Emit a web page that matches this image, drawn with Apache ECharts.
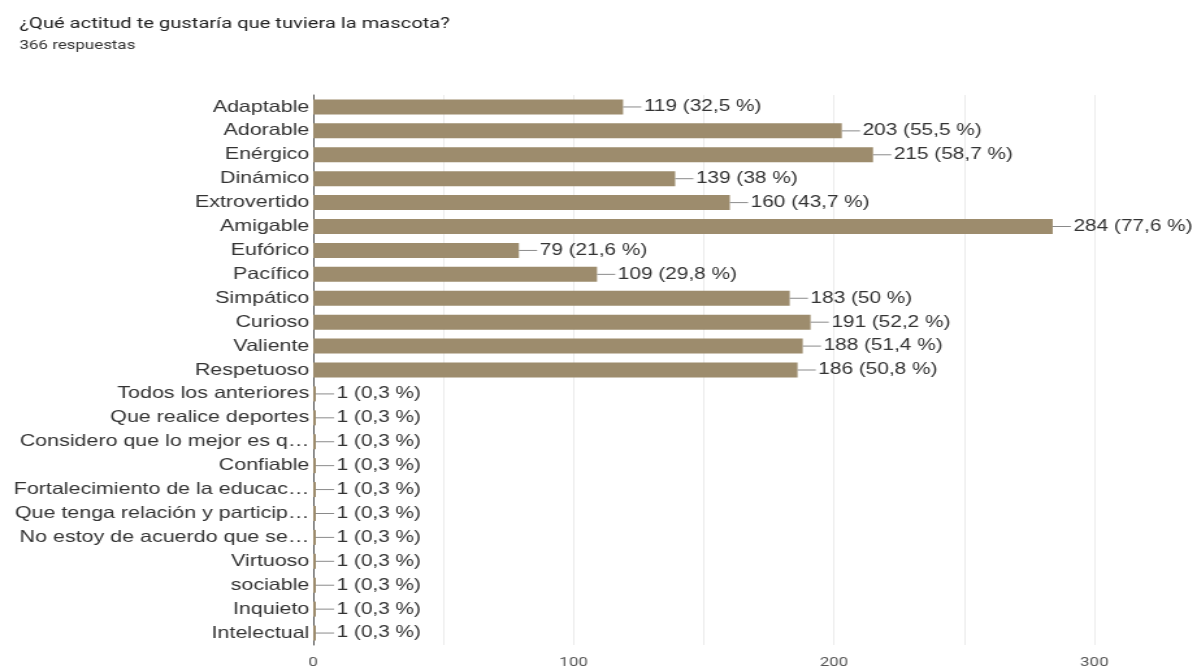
<!DOCTYPE html>
<html>
<head>
<meta charset="utf-8">
<script src="https://cdn.jsdelivr.net/npm/echarts@6/dist/echarts.min.js"></script>
<style>
html,body{margin:0;padding:0;background:#fff;overflow:hidden;}
#wrap{width:1197px;height:672px;overflow:hidden;}
#chart{width:921px;height:672px;transform:scaleX(1.2997);transform-origin:0 0;}
</style>
</head>
<body>
<div id="wrap"><div id="chart"></div></div>
<script>
const titleText = '¿Qué actitud te gustaría que tuviera la mascota?';
const subtitleText = '366 respuestas';
const totalResponses = 366;
const categories = [
  'Adaptable','Adorable','Enérgico','Dinámico','Extrovertido','Amigable','Eufórico','Pacífico',
  'Simpático','Curioso','Valiente','Respetuoso','Todos los anteriores','Que realice deportes',
  'Considero que lo mejor es q…','Confiable','Fortalecimiento de la educac…','Que tenga relación y particip…',
  'No estoy de acuerdo que se…','Virtuoso','sociable','Inquieto','Intelectual'
];
const values = [119,203,215,139,160,284,79,109,183,191,188,186,1,1,1,1,1,1,1,1,1,1,1];
const xTicks = [0,100,200,300];

const chart = echarts.init(document.getElementById('chart'));
function pct(v){
  const p = Math.round(v / totalResponses * 1000) / 10;
  return String(p).replace('.', ',');
}
chart.setOption({
  animation: false,
  backgroundColor: '#ffffff',
  title: {
    text: titleText,
    subtext: subtitleText,
    left: 10,
    top: 11,
    itemGap: 7,
    textStyle: {fontFamily: 'Roboto', fontSize: 15.5, fontWeight: 'normal', color: '#222222'},
    subtextStyle: {fontFamily: 'Roboto', fontSize: 13, color: '#333333'}
  },
  grid: {left: 241, right: 79, top: 95, bottom: 27, containLabel: false},
  xAxis: {
    type: 'value',
    min: 0,
    max: 300,
    interval: 50,
    axisLine: {show: false},
    axisTick: {show: false},
    splitLine: {show: true, lineStyle: {color: '#ececec', width: 1}},
    axisLabel: {
      margin: 11,
      fontFamily: 'Roboto',
      fontSize: 13,
      color: '#555555',
      formatter: function(v){ return xTicks.indexOf(v) >= 0 ? String(v) : ''; }
    }
  },
  yAxis: {
    type: 'category',
    data: categories,
    inverse: true,
    axisLine: {show: true, lineStyle: {color: '#555555', width: 1}},
    axisTick: {show: false},
    axisLabel: {interval: 0, margin: 3, fontFamily: 'Liberation Sans', fontSize: 16.5, color: '#333333'}
  },
  series: [{
    type: 'bar',
    data: values,
    barWidth: 15,
    itemStyle: {color: '#9d8c6d'},
    label: {
      show: true,
      position: 'right',
      distance: 0,
      formatter: function(p){ return '{l|}{t|' + p.value + ' (' + pct(p.value) + ' %)}'; },
      rich: {
        l: {width: 14, height: 1, backgroundColor: '#8a8a8a'},
        t: {fontFamily: 'Liberation Sans', fontSize: 16, color: '#333333', padding: [0,0,0,2]}
      }
    }
  }]
});
</script>
</body>
</html>
